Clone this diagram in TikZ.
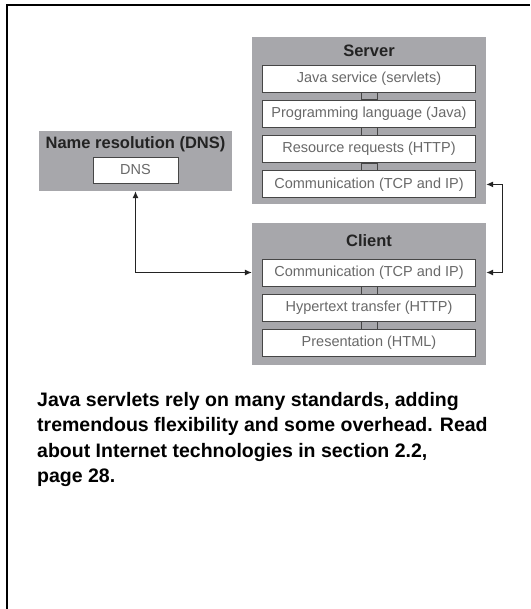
\documentclass[tikz,border=0pt]{standalone}
\usepackage{fontspec}
\setmainfont{Liberation Sans}
\usetikzlibrary{positioning, arrows.meta}
\definecolor{panelgray}{RGB}{167,167,171}
\definecolor{layertext}{RGB}{105,105,105}
\definecolor{titletext}{RGB}{35,35,35}
\definecolor{layerline}{RGB}{70,70,70}

\begin{document}
\begin{tikzpicture}[x=1pt, y=1pt,
    panel/.style={fill=panelgray, inner sep=0pt},
    paneltitle/.style={font=\fontsize{16.5}{18}\selectfont\bfseries, text=titletext},
    layer/.style={draw=layerline, line width=0.8pt, fill=white,
                  minimum width=213pt, minimum height=27pt, inner sep=0pt,
                  font=\fontsize{14.5}{16}\selectfont, text=layertext},
    link/.style={draw=layerline, line width=0.8pt},
    arrow/.style={{Latex[length=7pt,width=6pt]}-{Latex[length=7pt,width=6pt]},
                  line width=1pt, draw=titletext},
]
\useasboundingbox (0,0) rectangle (530,-609);

% frame
\draw[line width=2pt] (7,-609) |- (530,-5);

% Server stack
\node[panel, minimum width=234pt, minimum height=167pt] (srvbg) at (369,-120.5) {};
\node[paneltitle] (srvtitle) at (369,-51) {Server};
\node[layer] (s1) at (369,-78.5) {Java service (servlets)};
\node[layer, below=7.5pt of s1] (s2) {Programming language (Java)};
\node[layer, below=7.5pt of s2] (s3) {Resource requests (HTTP)};
\node[layer, below=7.5pt of s3] (s4) {Communication (TCP and IP)};

% Client stack
\node[panel, minimum width=234pt, minimum height=142pt] (clibg) at (369,-294) {};
\node[paneltitle] (clititle) at (369,-241) {Client};
\node[layer] (c1) at (369,-272.5) {Communication (TCP and IP)};
\node[layer, below=7.5pt of c1] (c2) {Hypertext transfer (HTTP)};
\node[layer, below=7.5pt of c2] (c3) {Presentation (HTML)};

% Name resolution
\node[panel, minimum width=193pt, minimum height=60pt] (dnsbg) at (135.5,-161) {};
\node[paneltitle] (dnstitle) at (135.5,-144) {Name resolution (DNS)};
\node[layer, minimum width=85pt, minimum height=26pt] (dns) at (135.5,-170) {DNS};

% links between layers
\draw[link] ([xshift=-8pt]s1.south) rectangle ([xshift=8pt]s2.north);
\draw[link] ([xshift=-8pt]s2.south) rectangle ([xshift=8pt]s3.north);
\draw[link] ([xshift=-8pt]s3.south) rectangle ([xshift=8pt]s4.north);
\draw[link] ([xshift=-8pt]c1.south) rectangle ([xshift=8pt]c2.north);
\draw[link] ([xshift=-8pt]c2.south) rectangle ([xshift=8pt]c3.north);

% arrows
\draw[arrow] (dnsbg.south) |- (c1 -| clibg.west);
\draw[arrow] (s4 -| srvbg.east) -- ++(16,0) |- (c1 -| clibg.east);

% caption
\node[anchor=north west, inner sep=0pt, align=left, text=black,
      font=\fontsize{19.5}{25.5}\selectfont\bfseries] (caption) at (37,-392)
    {Java servlets rely on many standards, adding\\
     tremendous flexibility and some overhead. Read\\
     about Internet technologies in section 2.2,\\
     page 28.};

\end{tikzpicture}
\end{document}
